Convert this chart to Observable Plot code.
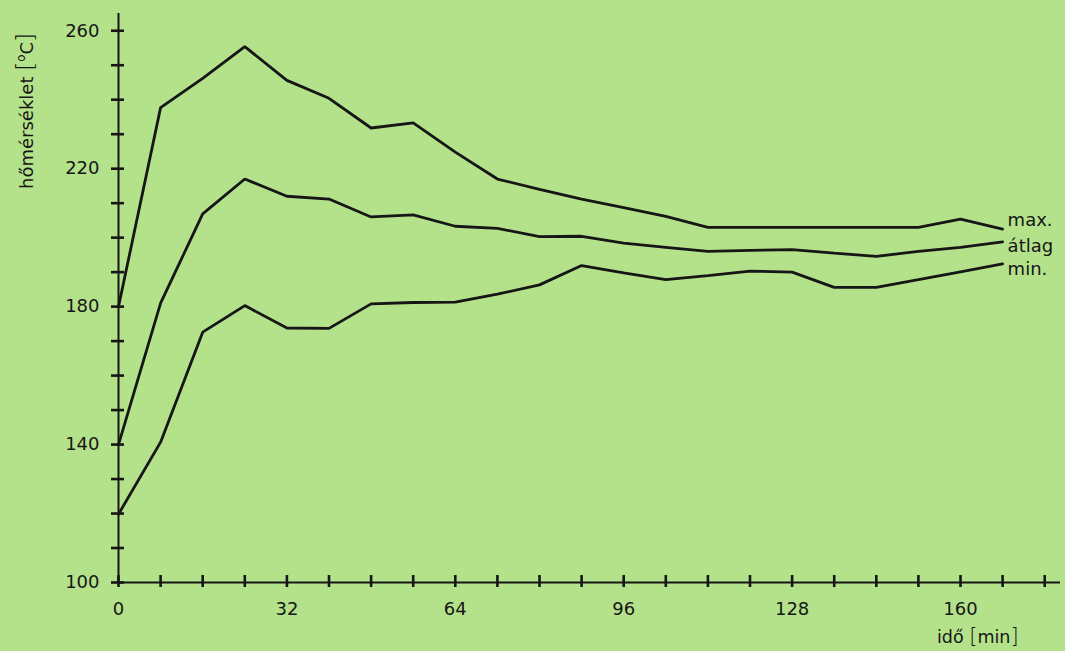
<!DOCTYPE html>
<html>
<head>
<meta charset="utf-8">
<script src="https://cdn.jsdelivr.net/npm/d3@7"></script>
<script src="https://cdn.jsdelivr.net/npm/@observablehq/plot@0.6"></script>
<style>
  html, body { margin: 0; padding: 0; background: #b4e28b; }
  #chart { width: 1065px; height: 651px; overflow: hidden; }
</style>
</head>
<body>
<div id="chart"></div>
<script>
// ---- data ----
const time = [0, 8, 16, 24, 32, 40, 48, 56, 64, 72, 80, 88, 96, 104, 112, 120, 128, 136, 144, 152, 160, 168];
const maxTemp = [180, 237.7, 246.2, 255.4, 245.6, 240.4, 231.8, 233.3, 224.8, 217.0, 214.0, 211.2, 208.7, 206.2, 203, 203, 203, 203, 203, 203, 205.4, 202.5];
const avgTemp = [140, 181, 206.9, 217, 212, 211.2, 206.0, 206.6, 203.3, 202.7, 200.3, 200.4, 198.4, 197.2, 196, 196.3, 196.5, 195.5, 194.6, 196, 197.2, 198.8];
const minTemp = [119.8, 140.7, 172.6, 180.3, 173.8, 173.7, 180.8, 181.2, 181.3, 183.6, 186.3, 191.9, 189.8, 187.8, 189, 190.3, 190.0, 185.6, 185.6, 187.8, 190.1, 192.4];
const seriesNames = ["max.", "átlag", "min."];
const xTickValues = [0, 8, 16, 24, 32, 40, 48, 56, 64, 72, 80, 88, 96, 104, 112, 120, 128, 136, 144, 152, 160, 168, 176];
const xLabelValues = [0, 32, 64, 96, 128, 160];
const yTickValues = [100, 110, 120, 130, 140, 150, 160, 170, 180, 190, 200, 210, 220, 230, 240, 250, 260];
const yLabelValues = [100, 140, 180, 220, 260];
const yTitle = "hőmérséklet";
const xTitle = "idő";
const xUnit = "min";

// ---- build table ----
const rows = [];
[maxTemp, avgTemp, minTemp].forEach((arr, i) =>
  arr.forEach((v, j) => rows.push({series: seriesNames[i], t: time[j], v}))
);
const lastT = time[time.length - 1];
const endOf = name => rows.filter(d => d.series === name && d.t === lastT);

const ink = "#161616";
const font = "'DejaVu Sans', Verdana, sans-serif";

const plot = Plot.plot({
  width: 1065,
  height: 651,
  marginLeft: 118,
  marginRight: 5,
  marginTop: 13,
  marginBottom: 69,
  style: {background: "transparent", fontFamily: font, color: ink, overflow: "visible"},
  x: {domain: [0, 179]},
  y: {domain: [100, 265]},
  marks: [
    Plot.ruleY([100], {stroke: ink, strokeWidth: 2}),
    Plot.ruleX([0], {stroke: ink, strokeWidth: 2}),
    Plot.axisX({ticks: xTickValues, tickSize: 12, dy: -7, tickFormat: () => "", strokeWidth: 2.6, stroke: ink, label: null}),
    Plot.axisX({ticks: xLabelValues, tickSize: 0, tickPadding: 20, fontSize: 18, fill: ink, label: null}),
    Plot.axisY({ticks: yTickValues, tickSize: 13, dx: 6, tickFormat: () => "", strokeWidth: 2.6, stroke: ink, label: null}),
    Plot.axisY({ticks: yLabelValues, tickSize: 0, tickPadding: 19, fontSize: 18, fill: ink, label: null}),
    Plot.line(rows, {x: "t", y: "v", z: "series", stroke: ink, strokeWidth: 2.8, strokeLinejoin: "miter"}),
    Plot.text(endOf("max."), {x: "t", y: "v", text: "series", dx: 5, dy: -9, textAnchor: "start", fontSize: 18, fill: ink}),
    Plot.text(endOf("átlag"), {x: "t", y: "v", text: "series", dx: 5, dy: 4, textAnchor: "start", fontSize: 18, fill: ink}),
    Plot.text(endOf("min."), {x: "t", y: "v", text: "series", dx: 5, dy: 5, textAnchor: "start", fontSize: 18, fill: ink})
  ]
});

document.getElementById("chart").appendChild(plot);

// ---- axis titles as real text ----
const svg = d3.select(plot);
const yt = svg.append("text")
  .attr("transform", "translate(33,189) rotate(-90)")
  .attr("text-anchor", "start")
  .attr("font-family", font)
  .attr("font-size", 18)
  .attr("fill", ink);
yt.append("tspan").text(yTitle + " ");
yt.append("tspan").attr("font-size", 23).attr("font-weight", 300).text("[");
yt.append("tspan").attr("font-size", 12).attr("dy", -8).text("o");
yt.append("tspan").attr("font-size", 18).attr("dy", 8).text("C");
yt.append("tspan").attr("font-size", 23).attr("font-weight", 300).text("]");

const xt = svg.append("text")
  .attr("x", 937)
  .attr("y", 643)
  .attr("text-anchor", "start")
  .attr("font-family", font)
  .attr("font-size", 17.5)
  .attr("fill", ink);
xt.append("tspan").text(xTitle + " ");
xt.append("tspan").attr("font-size", 21).attr("font-weight", 300).text("[");
xt.append("tspan").text(xUnit);
xt.append("tspan").attr("font-size", 21).attr("font-weight", 300).text("]");
</script>
</body>
</html>
